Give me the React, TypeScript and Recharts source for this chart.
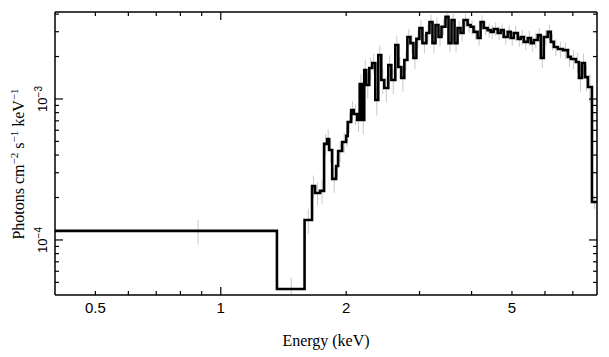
import React from 'react';
import {
  ComposedChart, Line, Scatter, ErrorBar, XAxis, YAxis, Label
} from 'recharts';

// bin lower edges (keV); the last bin runs up to energyMax
const energyEdges = [
  0.4, 1.364, 1.589, 1.656, 1.684, 1.731, 1.770, 1.800, 1.820, 1.851,
  1.892, 1.913, 1.956, 2.000, 2.017, 2.056, 2.085, 2.125, 2.155, 2.185,
  2.210, 2.234, 2.272, 2.310, 2.349, 2.388, 2.428, 2.469, 2.524, 2.567,
  2.624, 2.668, 2.713, 2.758, 2.805, 2.852, 2.900, 2.948, 2.998, 3.048,
  3.116, 3.169, 3.222, 3.276, 3.331, 3.387, 3.463, 3.521, 3.580, 3.640,
  3.701, 3.763, 3.826, 3.912, 3.978, 4.044, 4.135, 4.204, 4.275, 4.371,
  4.444, 4.519, 4.620, 4.697, 4.776, 4.883, 4.965, 5.049, 5.162, 5.248,
  5.337, 5.456, 5.548, 5.641, 5.767, 5.864, 5.963, 6.095, 6.198, 6.302,
  6.443, 6.624, 6.810, 6.925, 7.119, 7.239, 7.360, 7.484, 7.609, 7.780,
];
const energyMax = 8.0;

// photons cm^-2 s^-1 keV^-1
const flux = [
  1.16e-4, 4.49e-5, 1.387e-4, 2.415e-4, 2.154e-4, 2.23e-4, 4.80e-4, 5.20e-4, 4.35e-4, 2.71e-4,
  3.35e-4, 4.28e-4, 4.95e-4, 5.47e-4, 6.87e-4, 8.35e-4, 7.83e-4, 7.10e-4, 1.277e-3, 7.10e-4,
  1.606e-3, 1.257e-3, 1.66e-3, 1.80e-3, 9.84e-4, 2.05e-3, 1.364e-3, 1.197e-3, 1.742e-3, 1.364e-3,
  2.415e-3, 1.686e-3, 1.409e-3, 1.89e-3, 2.75e-3, 2.49e-3, 1.954e-3, 2.67e-3, 3.19e-3, 2.49e-3,
  2.94e-3, 3.52e-3, 2.49e-3, 3.35e-3, 2.75e-3, 3.25e-3, 3.82e-3, 2.49e-3, 3.63e-3, 2.49e-3,
  3.19e-3, 2.94e-3, 3.63e-3, 3.35e-3, 3.25e-3, 2.99e-3, 2.71e-3, 3.52e-3, 3.19e-3, 3.08e-3,
  2.99e-3, 3.14e-3, 2.94e-3, 3.08e-3, 2.75e-3, 2.99e-3, 2.71e-3, 2.94e-3, 2.67e-3, 2.75e-3,
  2.54e-3, 2.71e-3, 2.49e-3, 2.62e-3, 2.84e-3, 1.954e-3, 2.75e-3, 2.99e-3, 2.54e-3, 2.34e-3,
  2.26e-3, 2.22e-3, 1.99e-3, 1.92e-3, 1.83e-3, 1.409e-3, 1.80e-3, 1.43e-3, 1.216e-3, 1.86e-4,
];

// 1-sigma errors; a pair is [below, above]
const fluxErr: (number | number[])[] = [
  2.3e-5, [4e-6, 9e-6], 2.8e-5, 4.5e-5, 4.0e-5, 4.2e-5, 8.5e-5, 9e-5, 8e-5, 5.5e-5,
  6e-5, 7e-5, 8e-5, 9e-5, 1.1e-4, 1.3e-4, 1.3e-4, 1.3e-4, 2.2e-4, 1.5e-4,
  3e-4, 2.5e-4, 3e-4, 3e-4, 2.2e-4, 3.5e-4, 2.8e-4, 2.5e-4, 3e-4, 2.8e-4,
  4e-4, 3e-4, 2.8e-4, 3e-4, 4e-4, 3.8e-4, 3.2e-4, 4e-4, 4.2e-4, 3.8e-4,
  4e-4, 4.5e-4, 3.6e-4, 4.2e-4, 3.8e-4, 4.2e-4, 2.5e-4, 3.5e-4, 4e-4, 3.5e-4,
  4e-4, 3.8e-4, 4e-4, 4e-4, 3.8e-4, 3.5e-4, 3.3e-4, 4e-4, 3.6e-4, 3.5e-4,
  3.4e-4, 3.5e-4, 3.4e-4, 3.5e-4, 3.3e-4, 3.5e-4, 3.3e-4, 3.5e-4, 3.3e-4, 3.4e-4,
  3.2e-4, 3.4e-4, 3.2e-4, 3.3e-4, 3.5e-4, 3e-4, 3.5e-4, 3.8e-4, 3.4e-4, 3.2e-4,
  3e-4, 3e-4, 3e-4, 3e-4, 3e-4, 2.8e-4, 3e-4, 3e-4, 2.8e-4, 2e-5,
];

const xDomain = [0.4, 8.0];
const yDomain = [4.07e-5, 4.14e-3];
const xTicks = [0.5, 0.6, 0.7, 0.8, 0.9, 1, 2, 3, 4, 5, 6, 7];
const xTickLabels = [0.5, 1, 2, 5];
const yTicks = [
  5e-5, 6e-5, 7e-5, 8e-5, 9e-5, 1e-4, 2e-4, 3e-4, 4e-4, 5e-4,
  6e-4, 7e-4, 8e-4, 9e-4, 1e-3, 2e-3, 3e-3, 4e-3,
];
const yTickLabels = ['10^-4', '10^-3'];

const stepData = [
  ...energyEdges.map((e, i) => ({ e, flux: flux[i] })),
  { e: energyMax, flux: flux[flux.length - 1] },
];
const errData = energyEdges.map((e, i) => {
  const hi = i + 1 < energyEdges.length ? energyEdges[i + 1] : energyMax;
  return { e: (e + hi) / 2, flux: flux[i], err: fluxErr[i] };
});

const SANS = '"Liberation Sans", Arial, sans-serif';
const SERIF = '"Liberation Serif", "Times New Roman", serif';

const isDecade = (v: number) => Math.abs(Math.log10(v) - Math.round(Math.log10(v))) < 1e-6;

const BottomTick = ({ x, y, payload }: any) => {
  const v = payload.value;
  const len = isDecade(v) ? 8 : 4;
  return (
    <g>
      <line x1={x} x2={x} y1={y} y2={y - len} stroke="#000" strokeWidth={1.2} />
      {xTickLabels.includes(v) && (
        <text x={x} y={y + 17.5} textAnchor="middle" fontFamily={SANS} fontSize={15} fill="#000">{v}</text>
      )}
    </g>
  );
};

const TopTick = ({ x, y, payload }: any) => {
  const len = isDecade(payload.value) ? 8 : 4;
  return <line x1={x} x2={x} y1={y} y2={y + len} stroke="#000" strokeWidth={1.2} />;
};

const LeftTick = ({ x, y, payload }: any) => {
  const v = payload.value;
  const major = isDecade(v);
  const exp = Math.round(Math.log10(v));
  return (
    <g>
      <line x1={x} x2={x + (major ? 8 : 4)} y1={y} y2={y} stroke="#000" strokeWidth={1.2} />
      {major && yTickLabels.includes(`10^${exp}`) && (
        <text transform={`translate(${x - 8},${y}) rotate(-90)`} textAnchor="middle" fontFamily={SANS} fontSize={13} fill="#000">
          10<tspan dy={-5.5} fontSize={10}>{'\u2212' + Math.abs(exp)}</tspan>
        </text>
      )}
    </g>
  );
};

const RightTick = ({ x, y, payload }: any) => {
  const len = isDecade(payload.value) ? 8 : 4;
  return <line x1={x} x2={x - len} y1={y} y2={y} stroke="#000" strokeWidth={1.2} />;
};

const XTitle = ({ viewBox }: any) => (
  <text x={viewBox.x + viewBox.width / 2} y={viewBox.y + 50.5} textAnchor="middle" fontFamily={SERIF} fontSize={16} fill="#000">
    Energy (keV)
  </text>
);

const YTitle = () => (
  <text transform="translate(24,164) rotate(-90)" textAnchor="middle" fontFamily={SERIF} fontSize={16} fill="#000">
    <tspan>Photons cm</tspan>
    <tspan dy={-6} fontSize={11}>{'\u22122'}</tspan>
    <tspan dy={6}>{' s'}</tspan>
    <tspan dy={-6} fontSize={11}>{'\u22121'}</tspan>
    <tspan dy={6}>{' keV'}</tspan>
    <tspan dy={-6} fontSize={11}>{'\u22121'}</tspan>
  </text>
);

export default function App() {
  return (
    <div style={{ position: 'absolute', left: 0, top: 0, background: '#fff' }}>
      <ComposedChart width={609} height={357} margin={{ top: 0, right: 0, bottom: 0, left: 0 }}>
        <XAxis
          xAxisId={0} dataKey="e" type="number" scale="log" domain={xDomain} allowDataOverflow
          ticks={xTicks} interval={0} height={62} tickSize={0} tickMargin={0} tickLine={false}
          tick={<BottomTick />} axisLine={{ stroke: '#000', strokeWidth: 1.5 }}
        >
          <Label content={<XTitle />} />
        </XAxis>
        <XAxis
          xAxisId="top" orientation="top" dataKey="e" type="number" scale="log" domain={xDomain} allowDataOverflow
          ticks={xTicks} interval={0} height={12} tickSize={0} tickMargin={0} tickLine={false}
          tick={<TopTick />} axisLine={{ stroke: '#000', strokeWidth: 1.5 }}
        />
        <YAxis
          yAxisId={0} dataKey="flux" type="number" scale="log" domain={yDomain} allowDataOverflow
          ticks={yTicks} interval={0} width={55} tickSize={0} tickMargin={0} tickLine={false}
          tick={<LeftTick />} axisLine={{ stroke: '#000', strokeWidth: 1.5 }}
        >
          <Label content={<YTitle />} />
        </YAxis>
        <YAxis
          yAxisId="right" orientation="right" type="number" scale="log" domain={yDomain} allowDataOverflow
          ticks={yTicks} interval={0} width={12} tickSize={0} tickMargin={0} tickLine={false}
          tick={<RightTick />} axisLine={{ stroke: '#000', strokeWidth: 1.5 }}
        />
        <Scatter data={errData} dataKey="flux" shape={() => <g />} isAnimationActive={false}>
          <ErrorBar dataKey="err" direction="y" width={0} stroke="#c8c8c8" strokeWidth={1} isAnimationActive={false} />
        </Scatter>
        <Line
          data={stepData} dataKey="flux" type="stepAfter" stroke="#000" strokeWidth={2.6}
          dot={false} activeDot={false} isAnimationActive={false}
        />
      </ComposedChart>
    </div>
  );
}
